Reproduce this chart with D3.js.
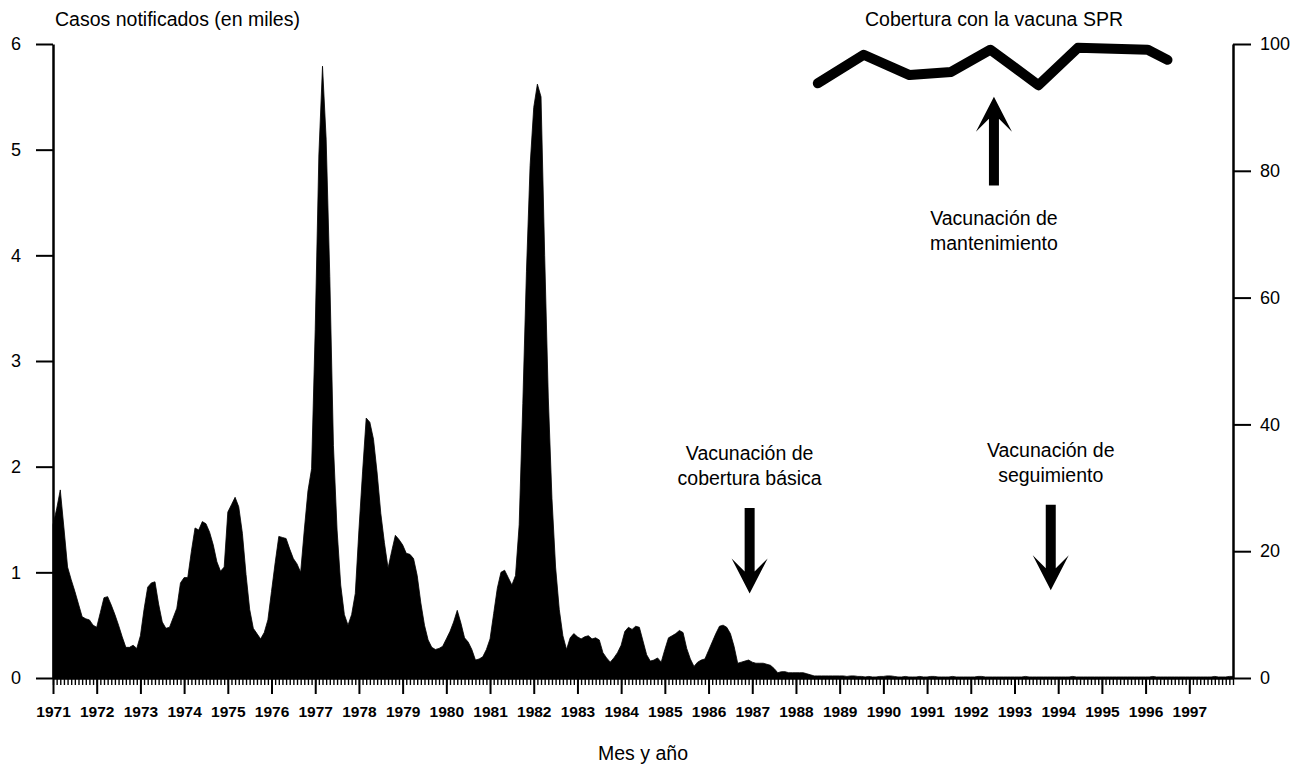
<!DOCTYPE html>
<html>
<head>
<meta charset="utf-8">
<script src="https://cdn.jsdelivr.net/npm/d3@7"></script>
<style>
  body { margin: 0; background: #fff; }
  text { font-family: "Liberation Sans", Arial, Helvetica, sans-serif; fill: #000; }
</style>
</head>
<body>
<script>
// monthly notified cases (thousands), Jan..Dec of each year
var cases1971 = [1.45, 1.60, 1.78, 1.42, 1.05, 0.93, 0.82, 0.70, 0.58, 0.56, 0.55, 0.50];
var cases1972 = [0.48, 0.62, 0.76, 0.77, 0.69, 0.60, 0.50, 0.39, 0.29, 0.29, 0.31, 0.28];
var cases1973 = [0.40, 0.65, 0.86, 0.90, 0.91, 0.70, 0.53, 0.47, 0.48, 0.57, 0.66, 0.90];
var cases1974 = [0.95, 0.95, 1.20, 1.42, 1.40, 1.48, 1.46, 1.38, 1.26, 1.10, 1.01, 1.05];
var cases1975 = [1.57, 1.64, 1.71, 1.62, 1.37, 0.98, 0.65, 0.47, 0.42, 0.37, 0.43, 0.55];
var cases1976 = [0.82, 1.09, 1.34, 1.33, 1.32, 1.22, 1.13, 1.08, 1.00, 1.40, 1.77, 1.98];
var cases1977 = [3.30, 4.95, 5.79, 5.10, 3.80, 2.20, 1.40, 0.88, 0.60, 0.50, 0.60, 0.80];
var cases1978 = [1.40, 1.95, 2.46, 2.42, 2.26, 1.94, 1.56, 1.28, 1.04, 1.20, 1.35, 1.31];
var cases1979 = [1.26, 1.18, 1.17, 1.13, 0.97, 0.71, 0.50, 0.36, 0.29, 0.27, 0.28, 0.30];
var cases1980 = [0.37, 0.44, 0.53, 0.64, 0.52, 0.38, 0.34, 0.27, 0.17, 0.18, 0.20, 0.27];
var cases1981 = [0.37, 0.61, 0.85, 1.00, 1.02, 0.95, 0.88, 0.97, 1.45, 2.60, 3.85, 4.85];
var cases1982 = [5.40, 5.62, 5.50, 4.00, 2.65, 1.70, 1.05, 0.65, 0.40, 0.27, 0.38, 0.42];
var cases1983 = [0.39, 0.37, 0.39, 0.40, 0.37, 0.38, 0.36, 0.24, 0.19, 0.15, 0.19, 0.24];
var cases1984 = [0.31, 0.44, 0.48, 0.46, 0.49, 0.48, 0.35, 0.22, 0.16, 0.17, 0.19, 0.15];
var cases1985 = [0.27, 0.38, 0.40, 0.42, 0.45, 0.43, 0.28, 0.18, 0.11, 0.15, 0.17, 0.18];
var cases1986 = [0.26, 0.34, 0.42, 0.49, 0.50, 0.48, 0.42, 0.30, 0.14, 0.15, 0.16, 0.17];
var cases1987 = [0.15, 0.14, 0.14, 0.14, 0.13, 0.12, 0.09, 0.05, 0.06, 0.06, 0.05, 0.05];
var cases1988 = [0.05, 0.05, 0.05, 0.04, 0.03, 0.02, 0.02, 0.02, 0.02, 0.02, 0.02, 0.02];
var cases1989 = [0.02, 0.02, 0.015, 0.02, 0.02, 0.015, 0.015, 0.01, 0.015, 0.01, 0.01, 0.015];
var cases1990 = [0.015, 0.02, 0.02, 0.015, 0.01, 0.01, 0.015, 0.01, 0.01, 0.01, 0.015, 0.01];
var cases1991 = [0.01, 0.015, 0.015, 0.01, 0.01, 0.01, 0.01, 0.015, 0.01, 0.01, 0.01, 0.01];
var cases1992 = [0.01, 0.01, 0.015, 0.015, 0.01, 0.01, 0.01, 0.01, 0.01, 0.01, 0.01, 0.01];
var cases1993 = [0.01, 0.01, 0.01, 0.015, 0.01, 0.01, 0.01, 0.01, 0.01, 0.01, 0.01, 0.01];
var cases1994 = [0.01, 0.01, 0.01, 0.01, 0.015, 0.01, 0.01, 0.01, 0.01, 0.01, 0.01, 0.01];
var cases1995 = [0.01, 0.01, 0.01, 0.01, 0.01, 0.01, 0.01, 0.01, 0.01, 0.01, 0.01, 0.01];
var cases1996 = [0.01, 0.01, 0.015, 0.01, 0.01, 0.01, 0.01, 0.01, 0.01, 0.01, 0.01, 0.01];
var cases1997 = [0.01, 0.01, 0.01, 0.01, 0.01, 0.01, 0.01, 0.015, 0.01, 0.01, 0.01, 0.015];

var monthlyCases = [cases1971, cases1972, cases1973, cases1974, cases1975, cases1976, cases1977,
  cases1978, cases1979, cases1980, cases1981, cases1982, cases1983, cases1984, cases1985,
  cases1986, cases1987, cases1988, cases1989, cases1990, cases1991, cases1992, cases1993,
  cases1994, cases1995, cases1996, cases1997];

var yearLabels = ["1971", "1972", "1973", "1974", "1975", "1976", "1977", "1978", "1979",
  "1980", "1981", "1982", "1983", "1984", "1985", "1986", "1987", "1988", "1989", "1990",
  "1991", "1992", "1993", "1994", "1995", "1996", "1997"];

var leftTicks = [0, 1, 2, 3, 4, 5, 6];
var rightTicks = [0, 20, 40, 60, 80, 100];

// MMR vaccine coverage (%), right axis
var coverageYears = [1988.5, 1989.55, 1990.6, 1991.55, 1992.45, 1993.55, 1994.45, 1996.05, 1996.5];
var coverageValues = [93.8, 98.3, 95.1, 95.6, 99.1, 93.5, 99.4, 99.1, 97.5];

// arrows: year, start and tip in thousands of cases (left scale)
var notes = [
  { year: 1986.94, from: 1.61, to: 0.80, lines: ["Vacunación de", "cobertura básica"] },
  { year: 1993.83, from: 1.64, to: 0.83, lines: ["Vacunación de", "seguimiento"] },
  { year: 1992.53, from: 4.66, to: 5.50, lines: ["Vacunación de", "mantenimiento"] }
];

var width = 1304, height = 769;
var svg = d3.select("body").append("svg")
  .attr("width", width)
  .attr("height", height);

var x = d3.scaleLinear().domain([1971, 1998]).range([53, 1233]);
var y = d3.scaleLinear().domain([0, 6]).range([678, 44]);
var yRight = d3.scaleLinear().domain([0, 100]).range([678, 44]);

var series = [];
monthlyCases.forEach(function(row, yi) {
  row.forEach(function(v, m) { series.push({ t: 1971 + yi + m / 12, v: v }); });
});
// carry the last month to the end of the axis
series.push({ t: 1998, v: series[series.length - 1].v });

var area = d3.area()
  .x(function(d) { return x(d.t); })
  .y0(y(0))
  .y1(function(d) { return y(d.v); });

svg.append("path")
  .datum(series)
  .attr("d", area)
  .attr("fill", "#000")
  .attr("stroke", "#000")
  .attr("stroke-width", 0.8);

// monthly minor ticks
var months = d3.range(0, 27 * 12 + 1).map(function(i) { return 1971 + i / 12; });
svg.append("g")
  .attr("transform", "translate(0," + y(0) + ")")
  .call(d3.axisBottom(x).tickValues(months).tickSize(7).tickSizeOuter(0).tickFormat(""))
  .call(function(g) {
    g.select(".domain").attr("stroke-width", 2.5);
    g.selectAll(".tick line").attr("stroke-width", 1.4);
  });

// year ticks + labels
svg.append("g")
  .attr("transform", "translate(0," + y(0) + ")")
  .call(d3.axisBottom(x)
    .tickValues(yearLabels.map(Number))
    .tickSize(16)
    .tickPadding(12)
    .tickFormat(function(d) { return String(d); }))
  .call(function(g) {
    g.select(".domain").remove();
    g.selectAll(".tick line").attr("stroke-width", 2);
    g.selectAll(".tick text")
      .style("font-size", "15.5px")
      .style("font-weight", "bold");
  });

// left axis
svg.append("g")
  .attr("transform", "translate(" + x(1971) + ",0)")
  .call(d3.axisLeft(y).tickValues(leftTicks).tickSize(17).tickPadding(15)
    .tickSizeOuter(0).tickFormat(d3.format("d")))
  .call(function(g) {
    g.select(".domain").attr("stroke-width", 2.5);
    g.selectAll(".tick line").attr("stroke-width", 2);
    g.selectAll(".tick text").style("font-size", "18px");
  });

// right axis
svg.append("g")
  .attr("transform", "translate(" + x(1998) + ",0)")
  .call(d3.axisRight(yRight).tickValues(rightTicks).tickSize(18).tickPadding(9)
    .tickSizeOuter(0).tickFormat(d3.format("d")))
  .call(function(g) {
    g.select(".domain").attr("stroke-width", 2.5);
    g.selectAll(".tick line").attr("stroke-width", 2);
    g.selectAll(".tick text").style("font-size", "18px");
  });

// coverage line
var coverage = coverageYears.map(function(yr, i) { return { t: yr, v: coverageValues[i] }; });
svg.append("path")
  .datum(coverage)
  .attr("d", d3.line()
    .x(function(d) { return x(d.t); })
    .y(function(d) { return yRight(d.v); }))
  .attr("fill", "none")
  .attr("stroke", "#000")
  .attr("stroke-width", 10)
  .attr("stroke-linecap", "round")
  .attr("stroke-linejoin", "round");

// arrows and labels
function arrowPath(cx, y0, y1) {
  var dir = y1 > y0 ? 1 : -1;
  var barb = y1 - dir * 35, notch = y1 - dir * 22;
  return "M" + (cx - 5) + "," + y0 +
    "L" + (cx - 5) + "," + notch +
    "L" + (cx - 18) + "," + barb +
    "L" + cx + "," + y1 +
    "L" + (cx + 18) + "," + barb +
    "L" + (cx + 5) + "," + notch +
    "L" + (cx + 5) + "," + y0 + "Z";
}

notes.forEach(function(n) {
  var cx = x(n.year), y0 = y(n.from), y1 = y(n.to);
  svg.append("path").attr("d", arrowPath(cx, y0, y1)).attr("fill", "#000");
  var down = y1 > y0;
  var base = down ? y0 - 48 : y0 + 39;
  n.lines.forEach(function(line, i) {
    svg.append("text")
      .attr("x", cx)
      .attr("y", base + i * 25)
      .attr("text-anchor", "middle")
      .style("font-size", "19.5px")
      .text(line);
  });
});

// titles
svg.append("text")
  .attr("x", 55).attr("y", 26)
  .style("font-size", "19.5px")
  .text("Casos notificados (en miles)");

svg.append("text")
  .attr("x", 994).attr("y", 26)
  .attr("text-anchor", "middle")
  .style("font-size", "19.5px")
  .text("Cobertura con la vacuna SPR");

svg.append("text")
  .attr("x", (x(1971) + x(1998)) / 2).attr("y", 760)
  .attr("text-anchor", "middle")
  .style("font-size", "19.5px")
  .text("Mes y año");
</script>
</body>
</html>
